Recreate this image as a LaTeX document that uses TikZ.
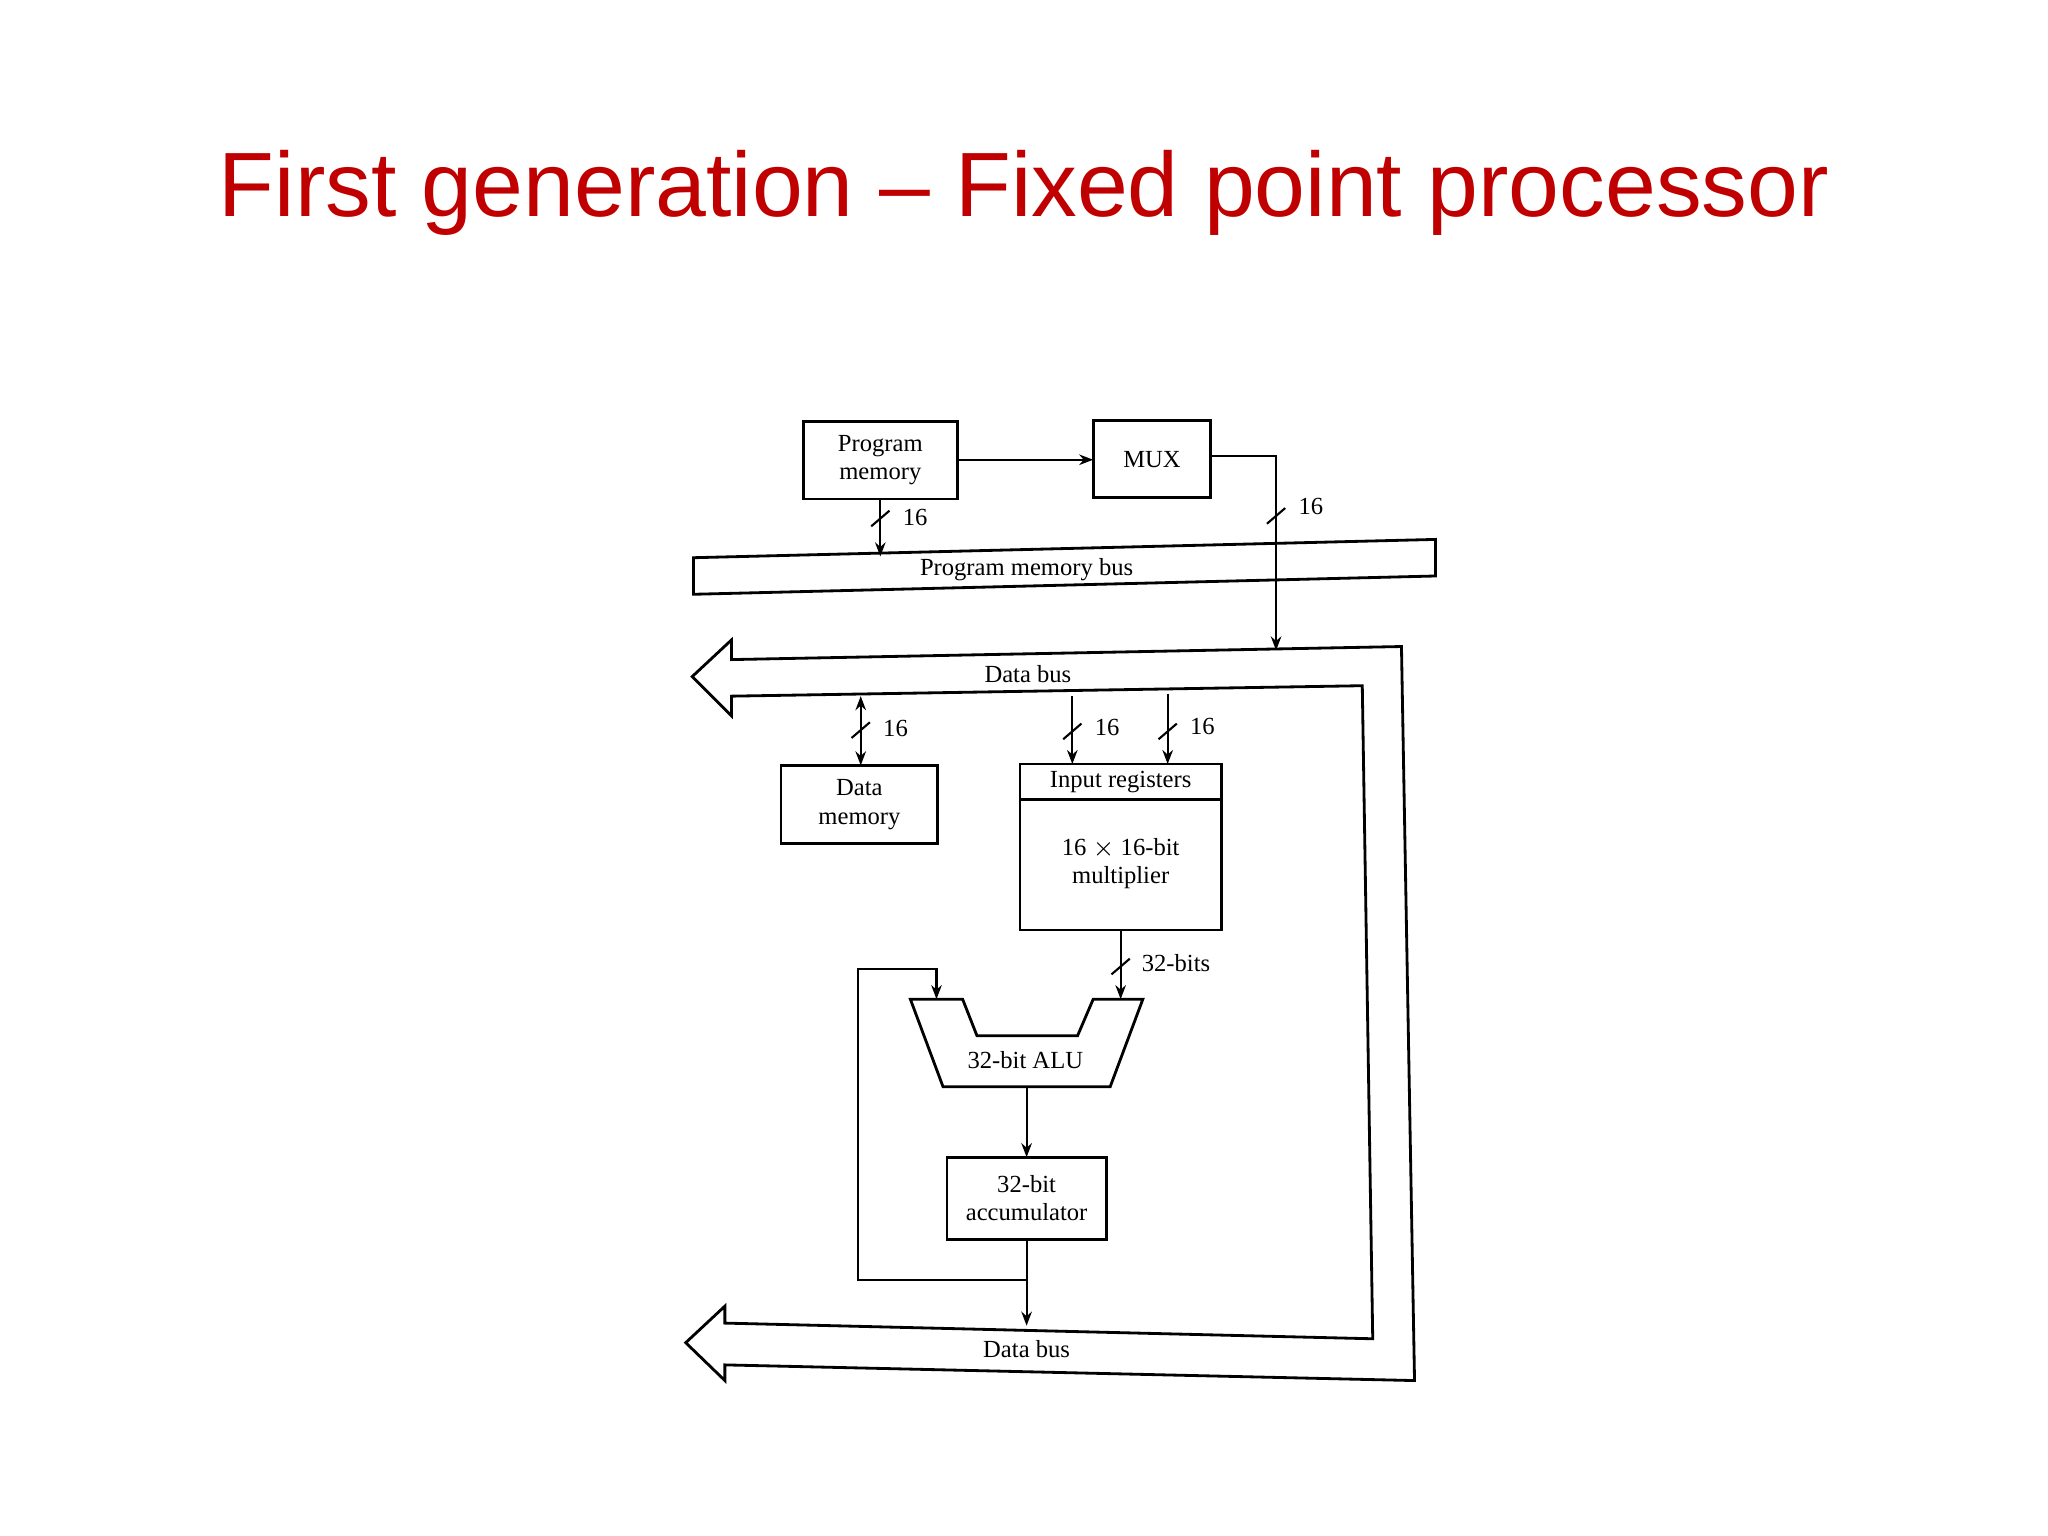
\documentclass[tikz,border=0pt]{standalone}
\usepackage{fontspec}
\setmainfont{Liberation Serif}
\newfontfamily\titlefont{Liberation Sans}
\usetikzlibrary{arrows.meta}
\definecolor{titlered}{RGB}{192,0,0}
\begin{document}
\begin{tikzpicture}[x=0.013061cm,y=-0.013061cm,
  lbl/.style={font=\fontsize{7}{8}\selectfont,inner sep=1pt},
  shp/.style={line width=0.8pt},
  wire/.style={line width=0.6pt},
  arr/.style={wire,-{Stealth[length=4pt,width=3pt]}},
  darr/.style={wire,{Stealth[length=4pt,width=3pt]}-{Stealth[length=4pt,width=3pt]}}]
\useasboundingbox (0,0) rectangle (1568,1176);
\node[text=titlered,font=\titlefont\fontsize{26}{30}\selectfont] (title) at (784,148) {First generation – Fixed point processor};
% boxes
\draw[shp] (615,323) rectangle (733,382);
\node[lbl,align=center] (pmt) at (674,352) {Program\\memory};
\draw[shp] (837,322) rectangle (927,381);
\node[lbl] (mux) at (882,352) {MUX};
\coordinate (pmr) at (733,352); \coordinate (muxl) at (837,352);
\draw[arr] (pmr) -- (muxl);
% program memory bus
\draw[shp] (531,427) -- (1099,413) -- (1099,441) -- (531,455) -- cycle;
\node[lbl] (pmb) at (786,436) {Program memory bus};
\coordinate (pmb1) at (674,382); \coordinate (pmb2) at (674,426);
\draw[arr] (pmb1) -- (pmb2);
\draw[wire] (667,403) -- (681,391); \node[lbl,anchor=west] (l1) at (688,396) {16};
\coordinate (muxr) at (927,349); \coordinate (db1) at (977,498);
\draw[arr] (muxr) -- (977,349) -- (db1);
\draw[wire] (970,401) -- (984,389); \node[lbl,anchor=west] (l2) at (991,388) {16};
% data bus
\draw[shp] (530,518) -- (560,490) -- (560,505) -- (1073,495) -- (1083,1057) -- (555,1045) -- (555,1057) -- (525,1028) -- (555,1000) -- (555,1013) -- (1051,1025) -- (1043,525) -- (560,533) -- (560,548) -- cycle;
\node[lbl] (db) at (787,516) {Data bus};
\node[lbl] (db2) at (786,1033) {Data bus};
% data memory
\draw[shp] (598,586) rectangle (718,646);
\node[lbl,align=center] (dm) at (658,616) {Data\\memory};
\coordinate (dma) at (659,533); \coordinate (dmb) at (659,586);
\draw[darr] (dma) -- (dmb);
\draw[wire] (652,565) -- (666,553); \node[lbl,anchor=west] (l3) at (673,558) {16};
% input registers
\draw[shp] (781,585) rectangle (935,712);
\draw[shp] (781,612) -- (935,612);
\node[lbl] (ir) at (858,599) {Input registers};
\node[lbl,align=center] (mul) at (858,661) {16 $\times$ 16-bit\\multiplier};
\coordinate (i1a) at (821,533); \coordinate (i1b) at (821,585);
\coordinate (i2a) at (894,531); \coordinate (i2b) at (894,585);
\draw[arr] (i1a) -- (i1b); \draw[arr] (i2a) -- (i2b);
\draw[wire] (814,566) -- (828,554); \node[lbl,anchor=west] (l4) at (835,557) {16};
\draw[wire] (887,566) -- (901,554); \node[lbl,anchor=west] (l5) at (908,556) {16};
\coordinate (m1) at (858,712); \coordinate (m2) at (858,765);
\draw[arr] (m1) -- (m2);
\draw[wire] (851,746) -- (865,734); \node[lbl,anchor=west] (l6) at (871,737) {32-bits};
% ALU
\draw[shp] (697,765) -- (737,765) -- (748,793) -- (825,793) -- (837,765) -- (875,765) -- (850,832) -- (722,832) -- cycle;
\node[lbl] (alu) at (785,812) {32-bit ALU};
% accumulator
\draw[shp] (725,886) rectangle (847,949);
\node[lbl,align=center] (acc) at (786,917) {32-bit\\accumulator};
\coordinate (a1) at (786,832); \coordinate (a2) at (786,886);
\draw[arr] (a1) -- (a2);
\coordinate (c1) at (786,949); \coordinate (c2) at (786,1015);
\draw[arr] (c1) -- (c2);
\coordinate (fb) at (717,765); \coordinate (fbs) at (786,980);
\draw[arr] (fbs) -- (657,980) -- (657,742) -- (717,742) -- (fb);
\end{tikzpicture}
\end{document}
